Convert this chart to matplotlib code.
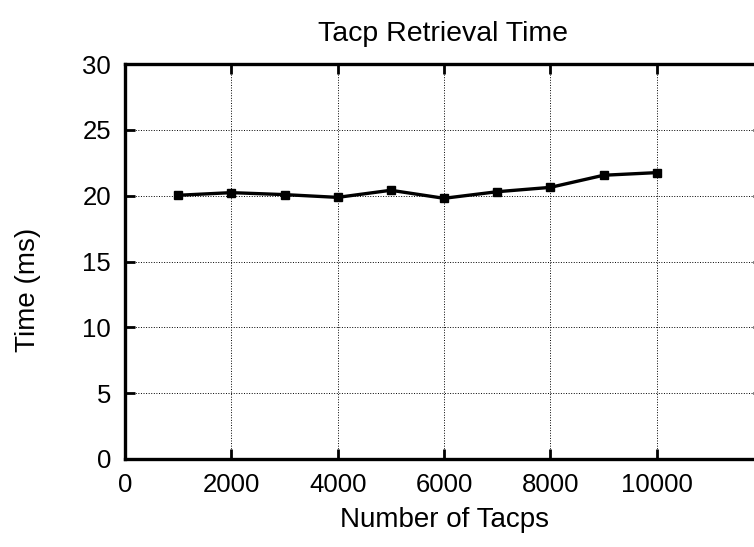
import numpy as np
import matplotlib.pyplot as plt

# measured retrieval times
tacps = [1000, 2000, 3000, 4000, 5000, 6000, 7000, 8000, 9000, 10000]
time_ms = [20.03, 20.23, 20.08, 19.87, 20.41, 19.8, 20.3, 20.63, 21.55, 21.75]
x_ticks = [0, 2000, 4000, 6000, 8000, 10000]
y_ticks = [0, 5, 10, 15, 20, 25, 30]


def main():
    plt.rcParams['font.family'] = ['Liberation Sans', 'DejaVu Sans']
    W, H = 754, 547
    fig = plt.figure(figsize=(W / 100, H / 100), dpi=100)
    # box runs to 12000, so its right side falls past the canvas edge
    left, right, top, bottom = 125, 763, 64, 459
    ax = fig.add_axes([left / W, 1 - bottom / H, (right - left) / W, (bottom - top) / H])

    ax.plot(tacps, time_ms, color='black', lw=2.4, marker='s', ms=6, clip_on=False)

    ax.set_xlim(0, 12000)
    ax.set_ylim(0, 30)
    ax.set_xticks(x_ticks)
    ax.set_yticks(y_ticks)
    ax.grid(True, color='black', linestyle=':', linewidth=0.7)
    ax.tick_params(direction='in', length=7, width=2, top=True, right=True,
                   labelsize=18.5, pad=10)
    for s in ax.spines.values():
        s.set_linewidth(2.4)

    ax.set_xlabel('Number of Tacps', fontsize=20, labelpad=7)
    fig.text(28 / W, 1 - 290 / H, 'Time (ms)', fontsize=20, rotation=90,
             ha='center', va='center')
    fig.text(443 / W, 1 - 41 / H, 'Tacp Retrieval Time', fontsize=20.5,
             ha='center', va='baseline')

    plt.savefig('out.png', dpi=100)


if __name__ == "__main__":
    main()
